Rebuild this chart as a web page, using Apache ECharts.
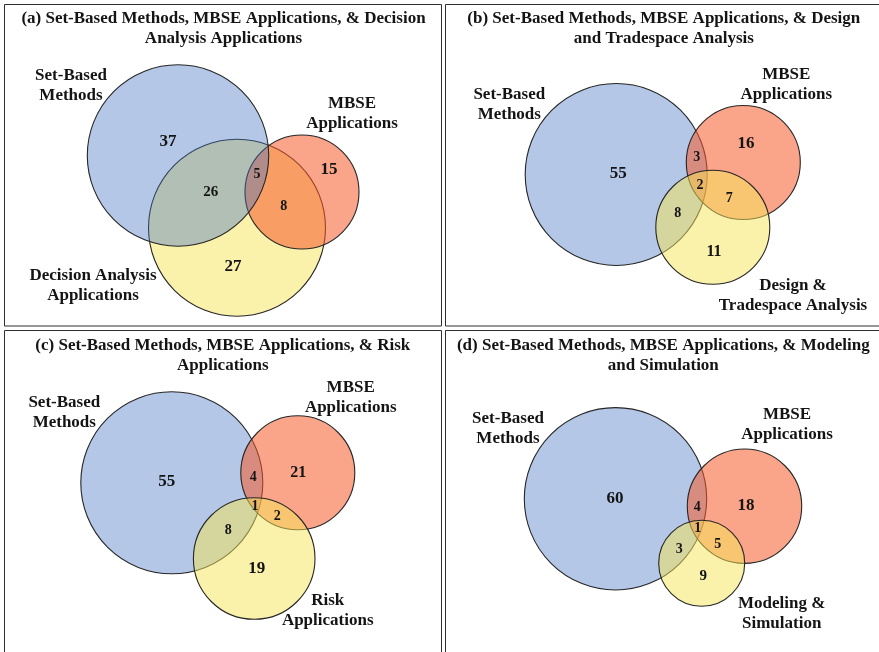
<!DOCTYPE html>
<html>
<head>
<meta charset="utf-8">
<script src="https://cdn.jsdelivr.net/npm/echarts/dist/echarts.min.js"></script>
<style>
  html, body { margin: 0; padding: 0; background: #ffffff; }
  #chart { width: 879px; height: 652px; }
</style>
</head>
<body>
<div id="chart"></div>
<script>
// ---- Panel titles ----
const titles = [
  '(a) Set-Based Methods, MBSE Applications, & Decision\nAnalysis Applications',
  '(b) Set-Based Methods, MBSE Applications, & Design\nand Tradespace Analysis',
  '(c) Set-Based Methods, MBSE Applications, & Risk\nApplications',
  '(d) Set-Based Methods, MBSE Applications, & Modeling\nand Simulation'
];

// ---- Set names (blue, red, yellow) per panel ----
const setNamesA = ['Set-Based\nMethods', 'MBSE\nApplications', 'Decision Analysis\nApplications'];
const setNamesB = ['Set-Based\nMethods', 'MBSE\nApplications', 'Design &\nTradespace Analysis'];
const setNamesC = ['Set-Based\nMethods', 'MBSE\nApplications', 'Risk\nApplications'];
const setNamesD = ['Set-Based\nMethods', 'MBSE\nApplications', 'Modeling &\nSimulation'];

// ---- Region counts per panel ----
// (a): SBM only, SBM∩DA, SBM∩MBSE∩DA, MBSE only, MBSE∩DA, DA only
const countsA = [37, 26, 5, 15, 8, 27];
// (b)-(d): SBM only, MBSE only, SBM∩MBSE, all three, MBSE∩third, SBM∩third, third only
const countsB = [55, 16, 3, 2, 7, 8, 11];
const countsC = [55, 21, 4, 1, 2, 8, 19];
const countsD = [60, 18, 4, 1, 5, 3, 9];

// ---- Layout (panel-local units = pixels from each panel's top-left corner) ----
const fills = [
  'rgba(68,114,196,0.40)',   // blue
  'rgba(246,90,42,0.55)',    // red
  'rgba(245,229,85,0.50)'    // yellow
];

const layout = [
  { // (a)
    left: 5, top: 4, w: 437, h: 322, titleX: 218.5,
    frame: [4.5, 4.5, 437, 321.5],
    circles: [[232, 223.7, 88.5, 2], [297, 188, 57, 1], [173, 151.5, 90.7, 0]],
    countPos: [[163, 137.7, 17], [205.7, 187.7, 15], [252, 170, 14], [324, 166, 17], [278.7, 202.7, 14], [228, 262.7, 17]],
    namePos: [[66, 82], [347, 110], [88, 282]],
    names: setNamesA, counts: countsA
  },
  { // (b)
    left: 445, top: 4, w: 434, h: 322, titleX: 218.8,
    frame: [445.5, 4.5, 440, 321.5],
    circles: [[171.2, 170.5, 91, 0], [298.3, 158.5, 57, 1], [267.8, 223.3, 57, 2]],
    countPos: [[173.3, 170, 17], [301, 140, 17], [251.7, 153.7, 14], [255, 181, 14], [284.3, 194.3, 14], [232.7, 209.3, 14], [269, 248.3, 16]],
    namePos: [[64.3, 100.7], [341.3, 81], [348, 291.7]],
    names: setNamesB, counts: countsB
  },
  { // (c)
    left: 5, top: 331, w: 437, h: 321, titleX: 217.8,
    frame: [4.5, 330.5, 437, 330],
    circles: [[166.8, 151.8, 91, 0], [292.8, 141.8, 57, 1], [249.2, 227.5, 60.8, 2]],
    countPos: [[161.7, 150.7, 17], [293.3, 142.3, 16], [248.3, 146.3, 14], [250, 175, 14], [272.3, 185, 14], [223.3, 199, 14], [251.7, 237.3, 17]],
    namePos: [[59.3, 82], [345.7, 66.5], [322.7, 279.8]],
    names: setNamesC, counts: countsC
  },
  { // (d)
    left: 445, top: 331, w: 434, h: 321, titleX: 218.3,
    frame: [445.5, 330.5, 440, 330],
    circles: [[170.5, 167.8, 91.2, 0], [299.5, 175.2, 57.2, 1], [256.7, 232.3, 43, 2]],
    countPos: [[170, 168, 17], [301, 174.7, 17], [252.3, 176.3, 14], [252.7, 197.3, 14], [272.7, 213, 14], [234.3, 218.3, 14], [258.3, 244.7, 15]],
    namePos: [[63, 97.8], [342, 94], [336.7, 282.3]],
    names: setNamesD, counts: countsD
  }
];

const FONT_FAMILY = '"Liberation Serif", "Times New Roman", serif';
const INK = '#141414';

function textEl(p, text, size, lineHeight) {
  return {
    type: 'text',
    x: p[0], y: p[1],
    style: {
      text: text,
      fill: INK,
      font: 'bold ' + size + 'px ' + FONT_FAMILY,
      lineHeight: lineHeight,
      align: 'center', verticalAlign: 'middle',
      textAlign: 'center', textVerticalAlign: 'middle'
    }
  };
}

const grids = [], xAxes = [], yAxes = [], series = [], frames = [];

layout.forEach((pl, i) => {
  grids.push({ left: pl.left, top: pl.top, width: pl.w, height: pl.h, show: false });
  xAxes.push({ gridIndex: i, type: 'value', min: 0, max: pl.w, show: false });
  yAxes.push({ gridIndex: i, type: 'value', min: 0, max: pl.h, inverse: true, show: false });

  // Panel frame
  frames.push({
    type: 'rect', silent: true, z: 100,
    shape: { x: pl.frame[0], y: pl.frame[1], width: pl.frame[2], height: pl.frame[3] },
    style: { fill: 'none', stroke: '#2f2f2f', lineWidth: 1 }
  });

  // Set circles
  series.push({
    type: 'custom', xAxisIndex: i, yAxisIndex: i, silent: true,
    data: pl.circles,
    renderItem: (params, api) => {
      const c = api.coord([api.value(0), api.value(1)]);
      const r = api.size([api.value(2), 0])[0];
      return {
        type: 'circle',
        shape: { cx: c[0], cy: c[1], r: r },
        style: { fill: fills[api.value(3)], stroke: '#262626', lineWidth: 1.1 }
      };
    }
  });

  // Region counts
  series.push({
    type: 'custom', xAxisIndex: i, yAxisIndex: i, silent: true,
    data: pl.counts.map((v, k) => [pl.countPos[k][0], pl.countPos[k][1], v]),
    renderItem: (params, api) => {
      const c = api.coord([api.value(0), api.value(1)]);
      const size = pl.countPos[params.dataIndex][2];
      return textEl(c, String(api.value(2)), size, size + 2);
    }
  });

  // Set names
  series.push({
    type: 'custom', xAxisIndex: i, yAxisIndex: i, silent: true,
    data: pl.namePos,
    renderItem: (params, api) => {
      const c = api.coord([api.value(0), api.value(1)]);
      return textEl(c, pl.names[params.dataIndex], 17, 20);
    }
  });

  // Panel title
  series.push({
    type: 'custom', xAxisIndex: i, yAxisIndex: i, silent: true,
    data: [[pl.titleX, 24.7]],
    renderItem: (params, api) => {
      const c = api.coord([api.value(0), api.value(1)]);
      return textEl(c, titles[i], 17, 20.7);
    }
  });
});

const chart = echarts.init(document.getElementById('chart'), null, { renderer: 'canvas' });
chart.setOption({
  backgroundColor: '#ffffff',
  animation: false,
  graphic: frames,
  grid: grids,
  xAxis: xAxes,
  yAxis: yAxes,
  series: series
});
</script>
</body>
</html>
